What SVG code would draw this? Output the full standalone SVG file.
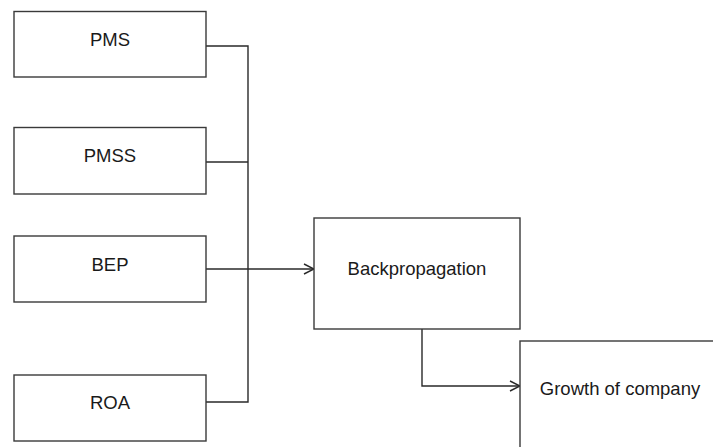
<svg xmlns="http://www.w3.org/2000/svg" width="713" height="447" viewBox="0 0 713 447">
  <style>
    .box { fill: #ffffff; stroke: #3a3a3a; stroke-width: 1.4; }
    .lbl { font-family: "Liberation Sans", Arial, sans-serif; font-size: 18.5px; fill: #1a1a1a; text-anchor: middle; }
    .wire { fill: none; stroke: #2a2a2a; stroke-width: 1.4; }
  </style>
  <defs>
    <marker id="chevron" viewBox="0 0 12 12" refX="11" refY="6" markerWidth="12" markerHeight="12" markerUnits="userSpaceOnUse" orient="auto">
      <path d="M1,1 L11,6 L1,11" fill="none" stroke="#2a2a2a" stroke-width="1.4"/>
    </marker>
  </defs>
  <rect width="713" height="447" fill="#ffffff"/>

  <g id="connectors">
    <path class="wire" d="M206,46 H248 V402 H206"/>
    <path class="wire" d="M206,162 H248"/>
    <path class="wire" d="M206,269 H314" marker-end="url(#chevron)"/>
    <path class="wire" d="M422,329 V386 H520" marker-end="url(#chevron)"/>
  </g>

  <g id="pms">
    <rect class="box" x="14" y="11.5" width="192" height="65.5"/>
    <text class="lbl" x="110" y="46">PMS</text>
  </g>
  <g id="pmss">
    <rect class="box" x="14" y="127.5" width="192" height="66.5"/>
    <text class="lbl" x="110" y="162">PMSS</text>
  </g>
  <g id="bep">
    <rect class="box" x="14" y="236" width="192" height="66"/>
    <text class="lbl" x="110" y="271">BEP</text>
  </g>
  <g id="roa">
    <rect class="box" x="14" y="375" width="192" height="66"/>
    <text class="lbl" x="110" y="409">ROA</text>
  </g>
  <g id="backpropagation">
    <rect class="box" x="314" y="218" width="206" height="111"/>
    <text class="lbl" x="417" y="275">Backpropagation</text>
  </g>
  <g id="growth">
    <rect class="box" x="520" y="341" width="210" height="120"/>
    <text class="lbl" x="620" y="395">Growth of company</text>
  </g>
</svg>
